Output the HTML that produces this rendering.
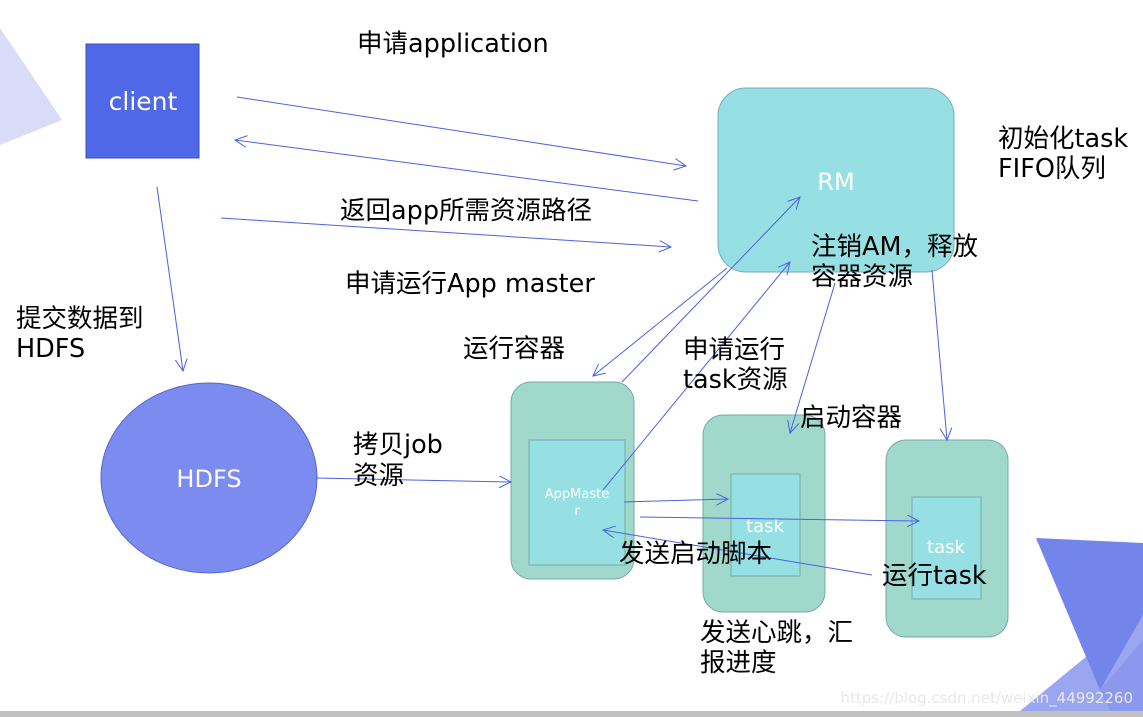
<!DOCTYPE html>
<html><head><meta charset="utf-8"><style>
body{margin:0;width:1143px;height:717px;overflow:hidden;background:#fff}
svg{display:block}
text{font-family:"DejaVu Sans","Noto Sans CJK SC",sans-serif}
</style></head><body>
<svg width="1143" height="717" viewBox="0 0 1143 717">
<defs><marker id="a" markerWidth="14" markerHeight="14" refX="12" refY="6" orient="auto" markerUnits="userSpaceOnUse"><path d="M0,0 L12,6 L0,12" fill="none" stroke="#4a62e0" stroke-width="1"/></marker></defs>
<polygon points="0,28 62,120 0,145" fill="#d8dcf7"/>
<polygon points="1020,711 1143,610 1143,711" fill="#9ba6f0"/>
<polygon points="1036,538 1143,543 1143,615 1100,690" fill="#7385ea"/>
<polygon points="1100,690 1143,640 1143,711 1110,711" fill="#8b98ee"/>
<rect x="0" y="711" width="1143" height="6" fill="#c0c0c0"/>
<rect x="86" y="44" width="113" height="114" fill="#4f68e8" stroke="#3a4fb8" stroke-width="1"/>
<text x="143" y="110" font-size="25" fill="#fff" text-anchor="middle">client</text>
<rect x="718" y="88" width="236" height="184" rx="28" fill="#96e0e3" stroke="#7ab" stroke-width="1"/>
<text x="836" y="190" font-size="24" fill="#fff" text-anchor="middle">RM</text>
<ellipse cx="209" cy="478" rx="108" ry="95" fill="#7c8bef" stroke="#5a66c0"/>
<text x="209" y="487" font-size="24" fill="#fff" text-anchor="middle">HDFS</text>
<rect x="511" y="382" width="123" height="197" rx="20" fill="#a1d8cc" stroke="#7aa"/>
<rect x="529" y="440" width="96" height="125" fill="#96e0e3" stroke="#7aa"/>
<text x="577" y="498" font-size="13" fill="#fff" text-anchor="middle">AppMaste</text>
<text x="577" y="515" font-size="13" fill="#fff" text-anchor="middle">r</text>
<rect x="703" y="415" width="122" height="197" rx="20" fill="#a1d8cc" stroke="#7aa"/>
<rect x="731" y="474" width="69" height="102" fill="#96e0e3" stroke="#7aa"/>
<text x="765" y="532" font-size="18" fill="#fff" text-anchor="middle">task</text>
<rect x="886" y="440" width="122" height="197" rx="20" fill="#a1d8cc" stroke="#7aa"/>
<rect x="912" y="497" width="69" height="102" fill="#96e0e3" stroke="#7aa"/>
<text x="946" y="553" font-size="18" fill="#fff" text-anchor="middle">task</text>
<g stroke="#4a62e0" stroke-width="1" fill="none" marker-end="url(#a)">
<line x1="237" y1="97" x2="686" y2="166"/>
<line x1="698" y1="201" x2="235" y2="140"/>
<line x1="221" y1="218" x2="671" y2="247"/>
<line x1="157" y1="187" x2="183" y2="371"/>
<line x1="316" y1="478" x2="511" y2="482"/>
<line x1="727" y1="268" x2="593" y2="376"/>
<line x1="622" y1="382" x2="800" y2="197"/>
<line x1="603" y1="490" x2="790" y2="262"/>
<line x1="835" y1="283" x2="790" y2="433"/>
<line x1="932" y1="270" x2="947" y2="440"/>
<line x1="624" y1="502" x2="728" y2="499"/>
<line x1="640" y1="517" x2="919" y2="521"/>
<line x1="872" y1="575" x2="603" y2="530"/>
</g>
<g font-size="25.5" fill="#000">
<text x="357" y="52">申请application</text>
<text x="998" y="147">初始化task</text>
<text x="998" y="177">FIFO队列</text>
<text x="340" y="219">返回app所需资源路径</text>
<text x="345" y="292">申请运行App master</text>
<text x="811" y="255">注销AM，释放</text>
<text x="811" y="285">容器资源</text>
<text x="16" y="327">提交数据到</text>
<text x="16" y="357">HDFS</text>
<text x="463" y="357">运行容器</text>
<text x="683" y="358">申请运行</text>
<text x="683" y="388">task资源</text>
<text x="800" y="426">启动容器</text>
<text x="353" y="453">拷贝job</text>
<text x="353" y="484">资源</text>
<text x="619" y="562">发送启动脚本</text>
<text x="882" y="584">运行task</text>
<text x="700" y="641">发送心跳，汇</text>
<text x="700" y="671">报进度</text>
</g>
<text x="1133" y="703" font-size="15" fill="#e8e8e8" text-anchor="end" font-family="Liberation Sans,sans-serif">https://blog.csdn.net/weixin_44992260</text>
</svg>
</body></html>
